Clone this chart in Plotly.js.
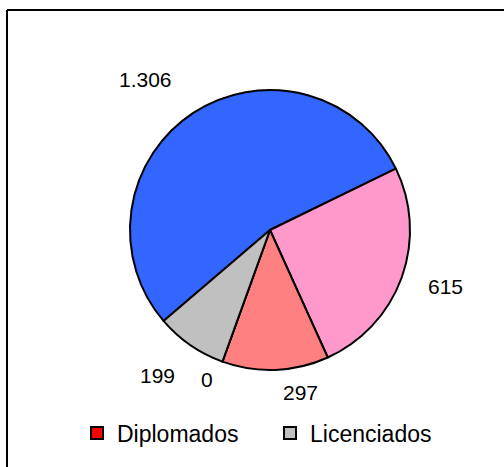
<!DOCTYPE html>
<html>
<head>
<meta charset="utf-8">
<script src="https://cdn.plot.ly/plotly-3.0.1.min.js"></script>
<style>html,body{margin:0;padding:0;background:#fff;}#chart{width:504px;height:467px;}</style>
</head>
<body>
<div id="chart"></div>
<script>
// Data
const categories = ["Categoría A", "Categoría B", "Diplomados", "Categoría D", "Licenciados"];
const values = [1306, 615, 297, 0, 199];
const sliceColors = ["#3366FF", "#FF99CC", "#FF8080", "#FF0000", "#C0C0C0"];
const legendLabels = ["Diplomados", "Licenciados"];
const legendColors = ["#FF0000", "#C0C0C0"];
// label anchor positions (pixels) as in the reference
const labelPos = [[145, 80], [445, 286], [300, 392], [207, 379], [157, 375]];

const W = 504, H = 467;
const fam = "Liberation Sans, Arial, sans-serif";
const font = {family: fam, size: 21, color: "#000"};
const fmt = v => String(v).replace(/\B(?=(\d{3})+(?!\d))/g, ".");

const traces = [{
  type: "pie",
  labels: categories,
  values: values,
  sort: false,
  direction: "clockwise",
  rotation: 229.5,
  marker: {colors: sliceColors, line: {color: "#000", width: 2}},
  textinfo: "none",
  hoverinfo: "none",
  showlegend: false,
  domain: {x: [130 / W, 410 / W], y: [(H - 370) / H, (H - 90) / H]}
}];
legendLabels.forEach((name, i) => {
  traces.push({
    type: "scatter", mode: "markers", x: [null], y: [null], name: name,
    marker: {symbol: "square", size: 13, color: legendColors[i], line: {color: "#000", width: 2}},
    showlegend: true, hoverinfo: "none"
  });
});

const annotations = values.map((v, i) => ({
  xref: "paper", yref: "paper", x: labelPos[i][0] / W, y: (H - labelPos[i][1]) / H,
  xanchor: "center", yanchor: "middle", showarrow: false, text: fmt(v), font: font
}));

const layout = {
  width: W, height: H,
  margin: {l: 0, r: 0, t: 0, b: 0},
  paper_bgcolor: "#fff", plot_bgcolor: "#fff",
  separators: ",.",
  font: font,
  xaxis: {visible: false}, yaxis: {visible: false},
  showlegend: true,
  legend: {orientation: "h", x: 77 / W, xanchor: "left", y: (H - 433) / H, yanchor: "middle",
           font: {family: fam, size: 23, color: "#000"},
           entrywidth: 148, entrywidthmode: "pixels",
           itemsizing: "constant", tracegroupgap: 0, bgcolor: "rgba(0,0,0,0)"},
  annotations: annotations,
  shapes: [
    {type: "line", xref: "paper", yref: "paper", x0: 7 / W, x1: 1.02, y0: (H - 10) / H, y1: (H - 10) / H, line: {color: "#000", width: 2}},
    {type: "line", xref: "paper", yref: "paper", x0: 7 / W, x1: 7 / W, y0: -0.02, y1: (H - 10) / H, line: {color: "#000", width: 2}}
  ]
};

Plotly.newPlot("chart", traces, layout, {displayModeBar: false, staticPlot: true});
</script>
</body>
</html>
